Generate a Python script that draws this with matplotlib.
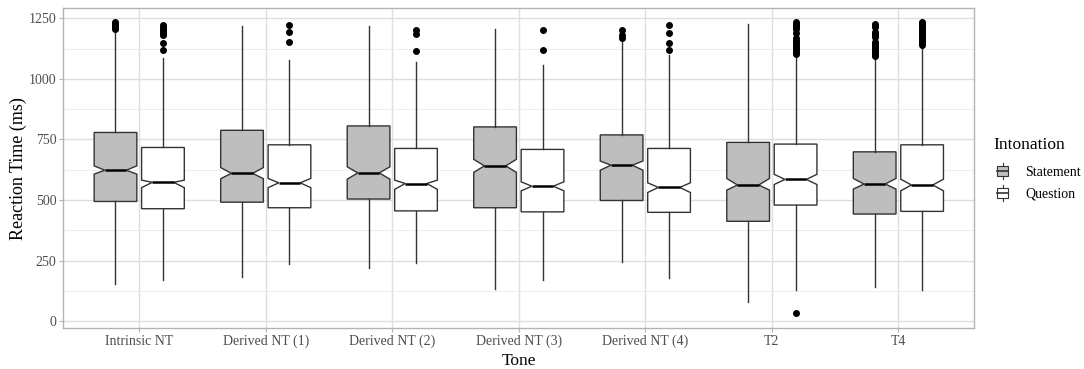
import numpy as np
import matplotlib
matplotlib.use('Agg')
import matplotlib.pyplot as plt
from matplotlib.legend_handler import HandlerBase
from matplotlib.patches import Rectangle, Patch
from matplotlib.lines import Line2D

plt.rcParams['font.family'] = ['Liberation Serif', 'DejaVu Serif']

# Datos
tones = ['Intrinsic NT', 'Derived NT (1)', 'Derived NT (2)', 'Derived NT (3)',
         'Derived NT (4)', 'T2', 'T4']

# Statement
st_lo = [153, 180, 219, 131, 245, 78, 142]
st_q1 = [494, 491, 504, 468, 498, 412, 442]
st_med = [623, 610, 612, 641, 644, 562, 566]
st_q3 = [779, 788, 806, 802, 769, 738, 699]
st_hi = [1203, 1219, 1219, 1206, 1167, 1229, 1089]
st_nlo = [607, 588, 586, 614, 623, 541, 545]
st_nhi = [641, 634, 637, 668, 661, 589, 589]
st_out = [
    [1206, 1212, 1218, 1224, 1230, 1235],
    [],
    [],
    [],
    [1171, 1181, 1204],
    [],
    [1094, 1100, 1105, 1112, 1120, 1126, 1133, 1140, 1147, 1153, 1174, 1180, 1187, 1194, 1215, 1222, 1229],
]

# Question
qu_lo = [169, 237, 241, 169, 179, 128, 128]
qu_q1 = [464, 468, 455, 451, 449, 479, 453]
qu_med = [573, 571, 568, 557, 552, 585, 562]
qu_q3 = [717, 728, 713, 709, 713, 731, 728]
qu_hi = [1085, 1078, 1071, 1057, 1098, 1098, 1133]
qu_nlo = [551, 551, 544, 538, 531, 564, 538]
qu_nhi = [582, 589, 582, 575, 571, 606, 586]
qu_out = [
    [1119, 1147, 1180, 1187, 1194, 1201, 1208, 1216, 1225],
    [1151, 1194, 1225],
    [1116, 1185, 1201],
    [1119, 1204],
    [1119, 1147, 1192, 1225],
    [32, 1105, 1112, 1119, 1126, 1133, 1140, 1147, 1154, 1161, 1168, 1190, 1208, 1215, 1222, 1229, 1236],
    [1140, 1147, 1154, 1161, 1168, 1175, 1182, 1189, 1196, 1203, 1210, 1217, 1224, 1231, 1236],
]

groups = ['Statement', 'Question']
fills = {'Statement': '#BEBEBE', 'Question': '#FFFFFF'}
edge = '#333333'


def make_stats(lo, q1, med, q3, hi, nlo, nhi, out):
    stats = []
    for i in range(len(lo)):
        stats.append(dict(whislo=lo[i], q1=q1[i], med=med[i], q3=q3[i], whishi=hi[i],
                          cilo=nlo[i], cihi=nhi[i], fliers=np.array(out[i])))
    return stats


data = {
    'Statement': make_stats(st_lo, st_q1, st_med, st_q3, st_hi, st_nlo, st_nhi, st_out),
    'Question': make_stats(qu_lo, qu_q1, qu_med, qu_q3, qu_hi, qu_nlo, qu_nhi, qu_out),
}

fig = plt.figure(figsize=(10.84, 3.69), dpi=100)
ax = fig.add_axes([0.0584, 0.111, 0.8404, 0.8665])

x = np.arange(1, len(tones) + 1)
dodge = 0.1875
bw = 0.3375
for k, g in enumerate(groups):
    off = -dodge if k == 0 else dodge
    ax.bxp(data[g], positions=x + off, widths=bw, shownotches=True, showcaps=False,
           patch_artist=True, manage_ticks=False,
           boxprops=dict(facecolor=fills[g], edgecolor=edge, linewidth=1.0),
           whiskerprops=dict(color=edge, linewidth=1.0),
           medianprops=dict(color='black', linewidth=1.8),
           flierprops=dict(marker='o', markerfacecolor='black', markeredgecolor='black',
                           markersize=4, linestyle='none'),
           zorder=3)

ax.set_xlim(0.4, len(tones) + 0.6)
ax.set_ylim(-29, 1292)
ax.set_xticks(x)
ax.set_xticklabels(tones)
ax.set_yticks([0, 250, 500, 750, 1000, 1250])
ax.set_yticks([125, 375, 625, 875, 1125], minor=True)

# Grid estilo theme_light
ax.grid(True, which='major', color='#DEDEDE', linewidth=1.0, zorder=0)
ax.grid(True, which='minor', axis='y', color='#EBEBEB', linewidth=0.6, zorder=0)
ax.set_axisbelow(True)
for s in ax.spines.values():
    s.set_color('#B3B3B3')
    s.set_linewidth(1.0)
ax.tick_params(which='major', colors='#B3B3B3', labelcolor='#4D4D4D', labelsize=10, length=3, pad=2)
ax.tick_params(which='minor', length=0)

ax.set_xlabel('Tone', fontsize=12.5, labelpad=3)
ax.set_ylabel('Reaction Time (ms)', fontsize=13, labelpad=1)


class BoxKey(HandlerBase):
    def create_artists(self, legend, orig_handle, xdescent, ydescent, width, height, fontsize, trans):
        cx = width / 2 - xdescent
        w = width
        bh = 7.0
        yc = -ydescent + height / 2
        wh = Line2D([cx, cx], [yc - bh / 2 - 2.2, yc + bh / 2 + 2.2], color=edge, lw=0.8, transform=trans)
        box = Rectangle((cx - w / 2, yc - bh / 2), w, bh,
                        facecolor=orig_handle.get_facecolor(), edgecolor=edge, lw=0.8, transform=trans)
        md = Line2D([cx - w / 2, cx + w / 2], [yc, yc], color=edge, lw=1.2, transform=trans)
        return [wh, box, md]


# Leyenda
fig.text(993 / 1084, 1 - 145 / 369, 'Intonation', fontsize=12.5, ha='left', va='center')
handles = [Patch(facecolor=fills[g]) for g in groups]
leg = fig.legend(handles, groups, handler_map={Patch: BoxKey()}, loc='upper left',
                 bbox_to_anchor=(0.9197, 0.552), frameon=False,
                 fontsize=10, handlelength=0.83, handleheight=0.9,
                 handletextpad=1.2, labelspacing=0.58,
                 borderpad=0, borderaxespad=0)

fig.savefig('out.png', dpi=100)
